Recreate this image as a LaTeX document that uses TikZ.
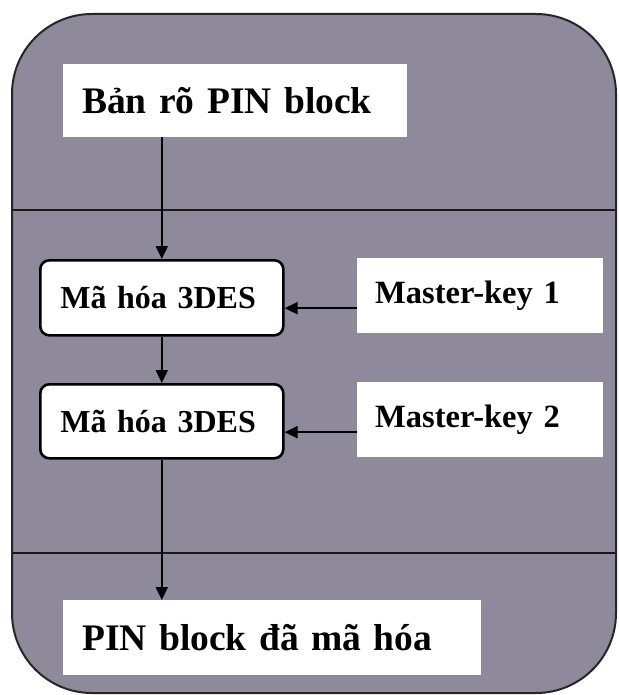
\documentclass[tikz,border=0pt]{standalone}
\usepackage{fontspec}
\setmainfont{Liberation Serif}
\usetikzlibrary{arrows.meta,calc}
\definecolor{bgtex}{RGB}{142,137,155}
\tikzset{
  whitebox/.style={fill=white, draw=none, anchor=north west, inner ysep=0pt, align=left,
    font=\bfseries\fontsize{37.5}{40}\selectfont},
  encbox/.style={fill=white, draw=black, line width=2.6pt, rounded corners=9pt, anchor=north west,
    inner ysep=0pt, inner xsep=20pt, text width=203pt, align=left,
    font=\bfseries\fontsize{32}{34}\selectfont},
  keybox/.style={fill=white, draw=none, anchor=north west, inner ysep=0pt, align=left,
    font=\bfseries\fontsize{32.5}{34}\selectfont},
  arr/.style={line width=2pt, -{Triangle[length=13pt,width=12pt]}},
  divider/.style={line width=2.8pt, black!90},
  frame/.style={line width=2pt, draw=black!85, fill=bgtex, rounded corners=80pt}
}
\begin{document}
\begin{tikzpicture}[x=1pt,y=-1pt]
\useasboundingbox (0,0) rectangle (618,695);
\fill[white] (0,0) rectangle (618,695);
% outer frame
\draw[frame] (12,14) rectangle (616,693);
\coordinate (l1) at (13,210);
\coordinate (r1) at (615,210);
\coordinate (l2) at (13,553);
\coordinate (r2) at (615,553);
\draw[divider] (l1) -- (r1);
\draw[divider] (l2) -- (r2);
% nodes
\node[whitebox, minimum height=73pt, text width=306pt, inner xsep=19pt] (top) at (63,64) {Bản rõ PIN block};
\node[encbox, minimum height=75pt] (b1) at (39,259) {Mã hóa 3DES};
\node[encbox, minimum height=74pt] (b2) at (39,383) {Mã hóa 3DES};
\node[keybox, minimum height=75pt, text width=210pt, inner xsep=18pt] (mk1) at (357,258) {Master-key 1};
\node[keybox, minimum height=75pt, text width=210pt, inner xsep=18pt] (mk2) at (357,382) {Master-key 2};
\node[whitebox, minimum height=75pt, text width=380pt, inner xsep=19pt] (bot) at (63,600) {PIN block đã mã hóa};
% connectors
\draw[arr] (top.south -| b1.north) -- (b1.north);
\draw[arr] (b1.south) -- (b2.north);
\draw[arr] (b2.south) -- (bot.north -| b2.south);
\draw[arr] ([yshift=-12.5pt]mk1.west) -- ([yshift=-12.5pt]mk1.west -| b1.east);
\draw[arr] ([yshift=-12.5pt]mk2.west) -- ([yshift=-12.5pt]mk2.west -| b2.east);
\end{tikzpicture}
\end{document}
